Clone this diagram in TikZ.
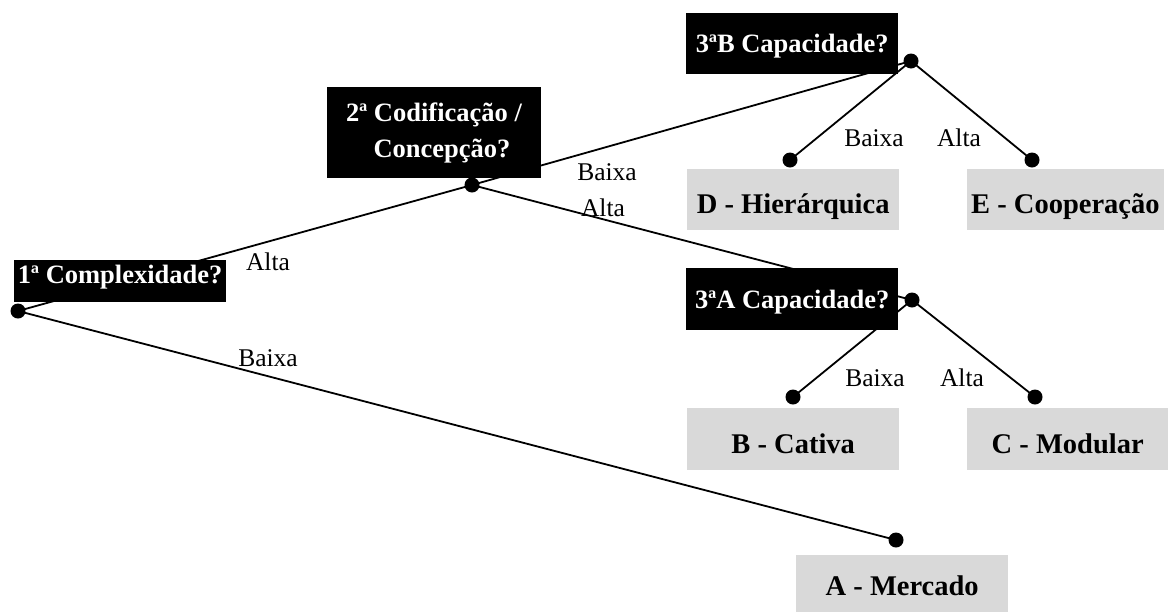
\documentclass[tikz,border=0pt]{standalone}
\usepackage{fontspec}
\setmainfont{Liberation Serif}
\usetikzlibrary{backgrounds}
\definecolor{boxgray}{RGB}{217,217,217}
\begin{document}
\begin{tikzpicture}[x=1pt,y=-1pt,
  qbox/.style={fill=black,text=white,font=\fontsize{26.5}{36}\selectfont\bfseries,inner xsep=0pt,inner ysep=0pt,minimum width=212pt,anchor=north west},
  gbox/.style={fill=boxgray,text=black,font=\fontsize{28.5}{34}\selectfont\bfseries,inner xsep=0pt,inner ysep=0pt,anchor=north west},
  dot/.style={circle,fill=black,inner sep=0pt,minimum size=15pt},
  lbl/.style={font=\fontsize{25.5}{30}\selectfont,inner sep=0pt},
  conn/.style={line width=1.8pt,black}]
\useasboundingbox (0,0) rectangle (1168,611);
% question boxes
\node[qbox,text height=23pt,text depth=19pt] (q1) at (14,260) {1ª Complexidade?};
\node[qbox,minimum width=214pt,minimum height=91pt,align=center,anchor=center] (q2) at (434,132.5) {2ª Codificação /\\\hspace*{16pt}Concepção?};
\node[qbox,text height=39pt,text depth=22pt] (q3b) at (686,13) {3ªB Capacidade?};
\node[qbox,text height=40pt,text depth=22pt] (q3a) at (686,268) {3ªA Capacidade?};
% outcome boxes
\node[gbox,minimum width=212pt,text height=44pt,text depth=17pt] (bD) at (687,169) {D - Hierárquica};
\node[gbox,inner xsep=4pt,text height=44pt,text depth=17pt] (bE) at (967,169) {E - Cooperação};
\node[gbox,minimum width=212pt,text height=45pt,text depth=17pt] (bB) at (687,408) {B - Cativa};
\node[gbox,minimum width=201pt,text height=45pt,text depth=17pt] (bC) at (967,408) {C - Modular};
\node[gbox,minimum width=212pt,text height=40pt,text depth=21pt] (bA) at (796,555) {A - Mercado};
% dots
\node[dot] (d1) at (18,311) {};
\node[dot] (d2) at (472,185) {};
\node[dot] (d3b) at (911,61) {};
\node[dot] (dD) at (790,160) {};
\node[dot] (dE) at (1032,160) {};
\node[dot] (d3a) at (912,300) {};
\node[dot] (dB) at (793,397) {};
\node[dot] (dC) at (1035,397) {};
\node[dot] (dA) at (896,540) {};
% connectors
\begin{scope}[on background layer]
\draw[conn] (d1.center) -- (d2.center);
\draw[conn] (d1.center) -- (dA.center);
\draw[conn] (d2.center) -- (d3b.center);
\draw[conn] (d2.center) -- (d3a.center);
\draw[conn] (d3b.center) -- (dD.center);
\draw[conn] (d3b.center) -- (dE.center);
\draw[conn] (d3a.center) -- (dB.center);
\draw[conn] (d3a.center) -- (dC.center);
\end{scope}
% labels
\node[lbl] (l1) at (268,262) {Alta};
\node[lbl] (l2) at (268,358) {Baixa};
\node[lbl] (l3) at (607,172) {Baixa};
\node[lbl] (l4) at (603,208) {Alta};
\node[lbl] (l5) at (874,138) {Baixa};
\node[lbl] (l6) at (959,138) {Alta};
\node[lbl] (l7) at (875,378) {Baixa};
\node[lbl] (l8) at (962,378) {Alta};
\end{tikzpicture}
\end{document}
